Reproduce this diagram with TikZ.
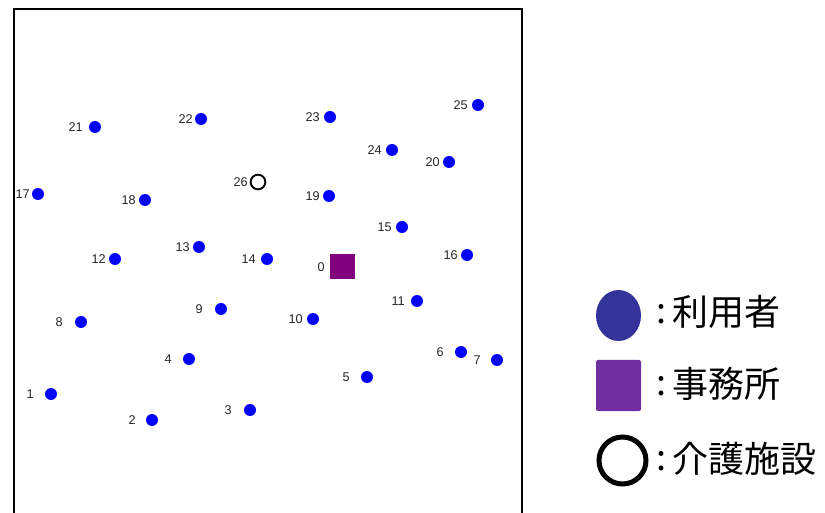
\documentclass[tikz,border=0pt]{standalone}
\usepackage{fontspec}
\setmainfont{Liberation Sans}
\newfontfamily\cjk{Noto Sans CJK JP}
\usetikzlibrary{shapes.geometric}
\definecolor{userblue}{RGB}{0,0,255}
\definecolor{officepurple}{RGB}{128,0,128}
\definecolor{legblue}{RGB}{51,51,153}
\definecolor{legpurple}{RGB}{112,48,160}
\begin{document}
\begin{tikzpicture}[x=0.75pt,y=-0.75pt,
  dot/.style={circle,fill=userblue,inner sep=0pt,minimum size=9pt},
  num/.style={font=\fontsize{9.5}{10}\selectfont,text=black!85,inner sep=0pt,anchor=east},
  legtext/.style={font=\cjk\fontsize{27}{30}\selectfont,anchor=west,inner sep=0pt},
  legcolon/.style={font=\cjk\fontsize{27}{30}\selectfont,inner sep=0pt}]
\useasboundingbox (0,0) rectangle (825,513);
\draw[line width=1.1pt] (14,520) -- (14,9) -- (522,9) -- (522,520);
\foreach \i/\x/\y/\o in {1/51/394/17, 2/152/420/16, 3/250/410/18, 4/189/359/17,
  5/367/377/17, 6/461/352/17, 7/497/360/16, 8/81/322/18, 9/221/309/18,
  10/313/319/10, 11/417/301/12, 12/115/259/9, 13/199/247/9, 14/267/259/11,
  15/402/227/10, 16/467/255/9, 17/38/194/8, 18/145/200/9, 19/329/196/9,
  20/449/162/9, 21/95/127/12, 22/201/119/8, 23/330/117/10, 24/392/150/10,
  25/478/105/10} {
  \node[dot] (p\i) at (\x,\y) {};
  \node[num] (l\i) at ([xshift=-0.75*\o pt]p\i.center) {\i};
}
\node[rectangle,fill=officepurple,inner sep=0pt,minimum size=18.75pt] (p0) at (342,267) {};
\node[num] (l0) at ([xshift=-12.75pt]p0.center) {0};
\node[circle,draw=black,line width=1.4pt,fill=white,inner sep=0pt,minimum size=11pt] (p26) at (258,182) {};
\node[num] (l26) at ([xshift=-7.5pt]p26.center) {26};
% legend
\node[ellipse,fill=legblue,inner sep=0pt,minimum width=33.75pt,minimum height=38.25pt] (k1) at (618.5,315.5) {};
\node[rectangle,rounded corners=1.5pt,fill=legpurple,inner sep=0pt,minimum width=33.75pt,minimum height=38.25pt] (k2) at (618.5,385.5) {};
\node[circle,draw=black,line width=3.75pt,inner sep=0pt,minimum size=35.25pt] (k3) at (622.5,460.5) {};
\node[legcolon] (c1) at (661,314) {:};
\node[legcolon] (c2) at (661,386) {:};
\node[legcolon] (c3) at (661,461) {:};
\node[legtext] (t1) at (672,312) {利用者};
\node[legtext] (t2) at (672,384) {事務所};
\node[legtext] (t3) at (672,459) {介護施設};
\end{tikzpicture}
\end{document}
